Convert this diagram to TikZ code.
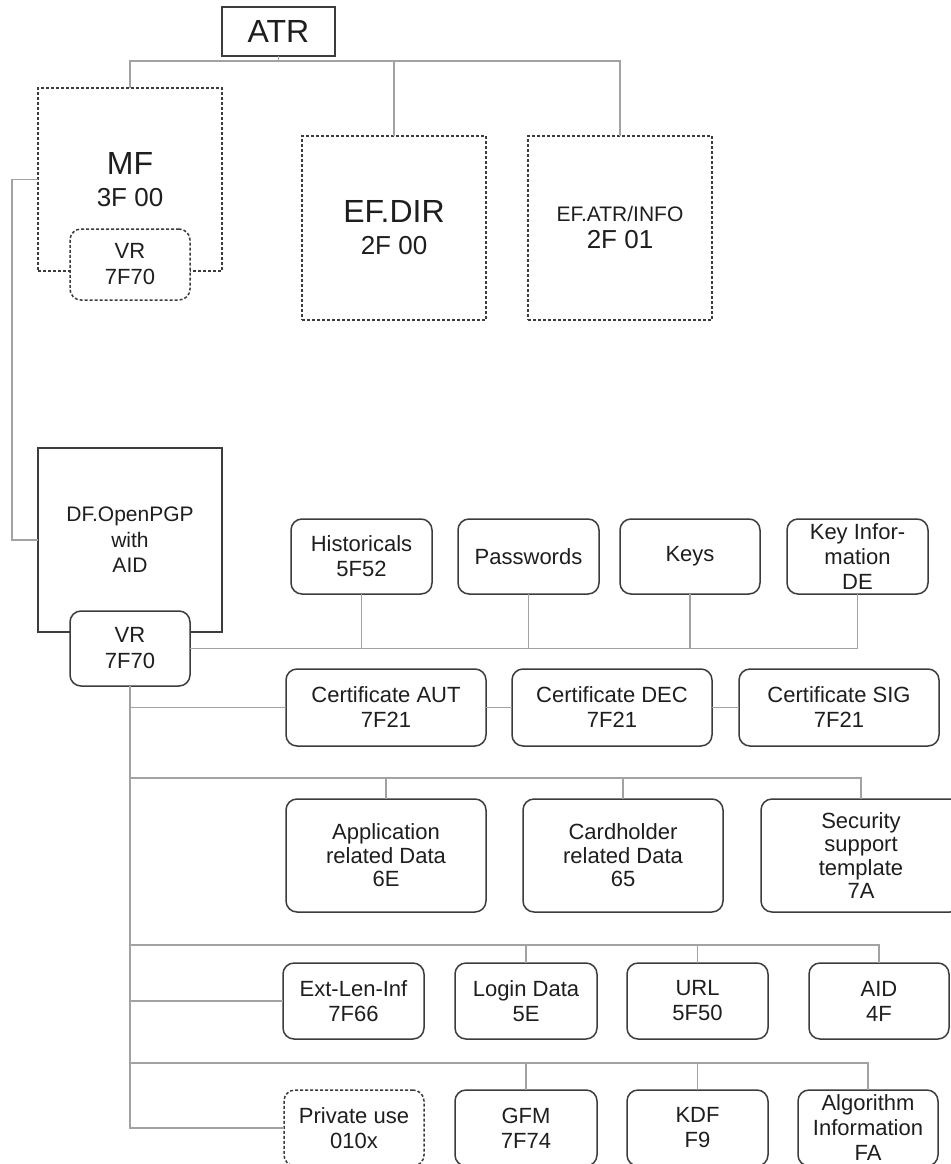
\documentclass[tikz,border=0pt]{standalone}
\usepackage{fontspec}
\setmainfont{Liberation Sans}
\definecolor{boxline}{HTML}{3C3C3C}
\definecolor{connline}{HTML}{A2A2A2}
\definecolor{txt}{HTML}{1E1E1E}
\begin{document}
\begin{tikzpicture}[x=1pt,y=-1pt,
  box/.style={draw=boxline, line width=1.5pt, fill=white, inner sep=0pt, outer sep=0pt,
    align=center, text=txt, font=\fontsize{22}{25}\selectfont},
  rbox/.style={box, rounded corners=11pt},
  dotline/.style={dash pattern=on 3pt off 2pt},
  conn/.style={draw=connline, line width=1.5pt},
]
\useasboundingbox (0,0) rectangle (950,1164);

% --- card root and master file level ---
\node[box, minimum width=113pt, minimum height=49pt, font=\fontsize{32}{32}\selectfont]
  (ATR) at (278.5,31.5) {ATR};
\node[box, dotline, minimum width=184pt, minimum height=183pt, font=\fontsize{26}{32}\selectfont]
  (MF) at (130,179.5) {{\fontsize{32}{32}\selectfont MF}\\3F 00};
\node[rbox, dotline, minimum width=120pt, minimum height=71pt, font=\fontsize{22}{26}\selectfont]
  (MFVR) at (130,264.5) {VR\\7F70};
\node[box, dotline, minimum width=184pt, minimum height=184pt, font=\fontsize{26}{32}\selectfont]
  (EFDIR) at (394,228) {{\fontsize{32}{32}\selectfont EF.DIR}\\2F 00};
\node[box, dotline, minimum width=184pt, minimum height=184pt, font=\fontsize{26}{27}\selectfont]
  (EFATR) at (620,228) {{\fontsize{21}{21}\selectfont EF.ATR/INFO}\\2F 01};

% --- OpenPGP application ---
\node[box, minimum width=184pt, minimum height=184pt, font=\fontsize{21}{25.5}\selectfont]
  (DF) at (130,540) {DF.OpenPGP\\with\\AID};
\node[rbox, minimum width=120pt, minimum height=75pt, font=\fontsize{22}{26}\selectfont]
  (DFVR) at (130,648.5) {VR\\7F70};

% first row of data objects
\node[rbox, minimum width=141pt, minimum height=75pt] (Hist) at (361.5,556.5) {Historicals\\5F52};
\node[rbox, minimum width=141pt, minimum height=75pt] (Pass) at (528.5,556.5) {Passwords};
\node[rbox, minimum width=140pt, minimum height=75pt] (Keys) at (690,556.5) {Keys};
\node[rbox, minimum width=141pt, minimum height=75pt] (KeyInfo) at (857.5,556.5) {Key Infor-\\mation\\DE};

% certificates
\node[rbox, minimum width=200pt, minimum height=77pt] (CertAUT) at (386,707.5) {Certificate AUT\\7F21};
\node[rbox, minimum width=200pt, minimum height=77pt] (CertDEC) at (612,707.5) {Certificate DEC\\7F21};
\node[rbox, minimum width=200pt, minimum height=77pt] (CertSIG) at (839,707.5) {Certificate SIG\\7F21};

% constructed data objects
\node[rbox, minimum width=200pt, minimum height=113pt, font=\fontsize{22}{23.5}\selectfont]
  (App) at (386,855.5) {Application\\related Data\\6E};
\node[rbox, minimum width=200pt, minimum height=113pt, font=\fontsize{22}{23.5}\selectfont]
  (Card) at (623,855.5) {Cardholder\\related Data\\65};
\node[rbox, minimum width=200pt, minimum height=113pt, font=\fontsize{22}{23.5}\selectfont]
  (Sec) at (861,855.5) {Security\\support\\template\\7A};

% simple data objects
\node[rbox, minimum width=141pt, minimum height=76pt] (Ext) at (353.5,1001) {Ext-Len-Inf\\7F66};
\node[rbox, minimum width=142pt, minimum height=76pt] (Login) at (526,1001) {Login Data\\5E};
\node[rbox, minimum width=141pt, minimum height=76pt] (URL) at (697.5,1001) {URL\\5F50};
\node[rbox, minimum width=140pt, minimum height=76pt] (AID) at (879,1001) {AID\\4F};

\node[rbox, dotline, minimum width=140pt, minimum height=76pt] (Priv) at (354,1128) {Private use\\010x};
\node[rbox, minimum width=142pt, minimum height=76pt] (GFM) at (526,1128) {GFM\\7F74};
\node[rbox, minimum width=141pt, minimum height=76pt] (KDF) at (697.5,1128) {KDF\\F9};
\node[rbox, minimum width=140pt, minimum height=76pt] (Algo) at (868,1128) {Algorithm\\Information\\FA};

% --- connectors ---
\coordinate (atrbus) at (278.5,61);
\draw[conn] (ATR.south) -- (atrbus);
\draw[conn] (MF.north) |- (atrbus) -| (EFATR.north);
\draw[conn] (EFDIR.north) -- (EFDIR.north |- atrbus);
\draw[conn] (MF.west) -- ++(-26,0) |- (DF.west);

\draw[conn] (DFVR.east) -| (KeyInfo.south);
\foreach \n in {Hist,Pass,Keys}
  \draw[conn] (\n.south) -- (\n.south |- DFVR.east);

\draw[conn] (DFVR.south) |- (Priv.west);
\draw[conn] (DFVR.south |- CertAUT.west) -- (CertAUT.west);
\draw[conn] (CertAUT.east) -- (CertDEC.west);
\draw[conn] (CertDEC.east) -- (CertSIG.west);

\coordinate (bus3) at (130,778);
\draw[conn] (bus3) -| (Sec.north);
\foreach \n in {App,Card}
  \draw[conn] (\n.north) -- (\n.north |- bus3);

\coordinate (bus4) at (130,945);
\draw[conn] (bus4) -| (AID.north);
\foreach \n in {Login,URL}
  \draw[conn] (\n.north) -- (\n.north |- bus4);
\draw[conn] (DFVR.south |- Ext.west) -- (Ext.west);

\coordinate (bus5) at (130,1063);
\draw[conn] (bus5) -| (Algo.north);
\foreach \n in {GFM,KDF}
  \draw[conn] (\n.north) -- (\n.north |- bus5);
\end{tikzpicture}
\end{document}
